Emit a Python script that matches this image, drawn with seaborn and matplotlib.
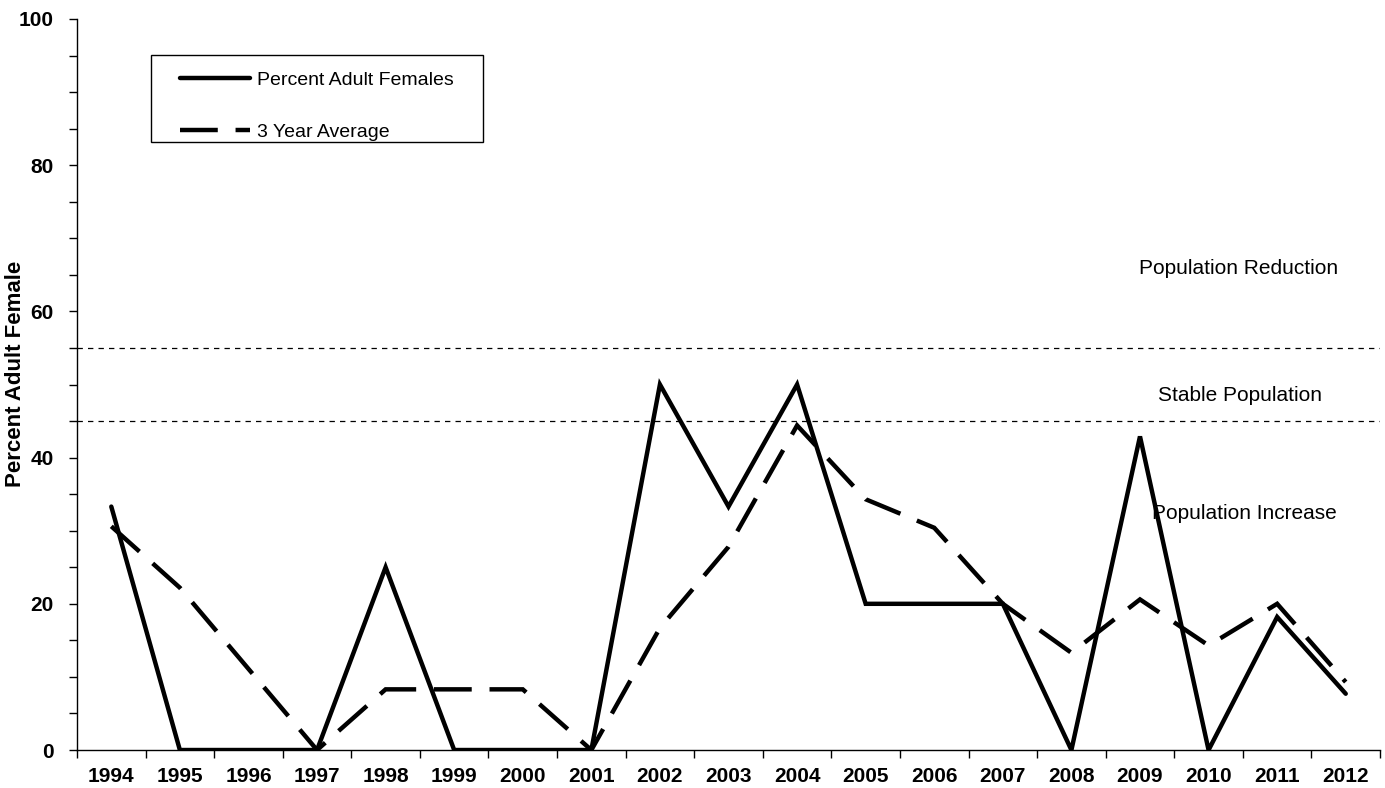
import numpy as np
import pandas as pd
import matplotlib
matplotlib.use("Agg")
import matplotlib.pyplot as plt
from matplotlib.patches import Rectangle
from matplotlib.ticker import FixedLocator, MultipleLocator
import seaborn as sns

# data
years = ['1994', '1995', '1996', '1997', '1998', '1999', '2000', '2001', '2002', '2003',
         '2004', '2005', '2006', '2007', '2008', '2009', '2010', '2011', '2012']
pct_females = [33.3, 0, 0, 0, 25, 0, 0, 0, 50, 33.3,
               50, 20, 20, 20, 0, 42.9, 0, 18.2, 7.7]
avg_3yr = [30.6, 22.2, 11.1, 0, 8.3, 8.3, 8.3, 0, 16.7, 27.8,
           44.4, 34.3, 30.4, 20, 13.3, 20.6, 14.3, 20.0, 9.3]
thresholds = [55, 45]
zone_labels = ['Population Reduction', 'Stable Population', 'Population Increase']

sns.set_style("white")
plt.rcParams['font.family'] = ['Liberation Sans', 'DejaVu Sans']
plt.rcParams.update({'text.color': 'black', 'axes.labelcolor': 'black',
                     'xtick.color': 'black', 'ytick.color': 'black'})

df = pd.DataFrame({'year': years, 'Percent Adult Females': pct_females,
                   '3 Year Average': avg_3yr})

fig = plt.figure(figsize=(13.85, 7.88), dpi=100)
ax = fig.add_axes([0.0556, 0.0482, 0.9408, 0.9277])

sns.lineplot(data=df, x='year', y='Percent Adult Females', ax=ax, color='black',
             lw=3.2, sort=False, label='Percent Adult Females')
sns.lineplot(data=df, x='year', y='3 Year Average', ax=ax, color='black',
             lw=3.2, sort=False, label='3 Year Average')
ax.lines[1].set_dashes([8.5, 4])
for ln in ax.lines:
    ln.set_solid_joinstyle('miter')
    ln.set_dash_joinstyle('miter')

for t in thresholds:
    ax.axhline(t, color='black', lw=0.9, ls=(0, (4.3, 4.1)), zorder=0)

ax.text(16.44, 65.9, zone_labels[0], fontsize=15, ha='center', va='center')
ax.text(16.46, 48.5, zone_labels[1], fontsize=15, ha='center', va='center')
ax.text(15.18, 32.4, zone_labels[2], fontsize=15, ha='left', va='center')

ax.set_xlim(-0.5, len(years) - 0.5)
ax.set_ylim(0, 100)
ax.yaxis.set_major_locator(MultipleLocator(20))
ax.yaxis.set_minor_locator(MultipleLocator(5))
ax.xaxis.set_minor_locator(FixedLocator(np.arange(-0.5, len(years), 1.0)))
ax.tick_params(axis='x', which='major', length=0, pad=12, labelsize=15)
ax.tick_params(axis='x', which='minor', length=6, width=1, direction='out', bottom=True)
ax.tick_params(axis='y', which='both', length=6, width=1, direction='out', left=True,
               labelsize=15, pad=11)
for lab in ax.get_xticklabels() + ax.get_yticklabels():
    lab.set_fontweight('bold')

sns.despine(ax=ax)
for s in ['left', 'bottom']:
    ax.spines[s].set_color('black')
    ax.spines[s].set_linewidth(1)

ax.set_xlabel('')
ax.set_ylabel('Percent Adult Female', fontsize=16, fontweight='bold')
ax.yaxis.set_label_coords(-0.039, 0.515)

# legend without its own frame, box drawn separately to match the reference padding
leg = ax.legend(loc='upper left', bbox_to_anchor=(0.079, 0.9285), fontsize=14,
                frameon=False, handlelength=3.6, borderpad=0, labelspacing=1.75,
                handletextpad=0.36, borderaxespad=0)
for h in leg.get_lines():
    h.set_linewidth(3.2)
ax.add_patch(Rectangle((0.0568, 0.8317), 0.2548, 0.119, transform=ax.transAxes,
                       fill=True, facecolor='white', edgecolor='black', lw=1, zorder=4))
leg.set_zorder(5)

fig.savefig('out.png', dpi=100)
